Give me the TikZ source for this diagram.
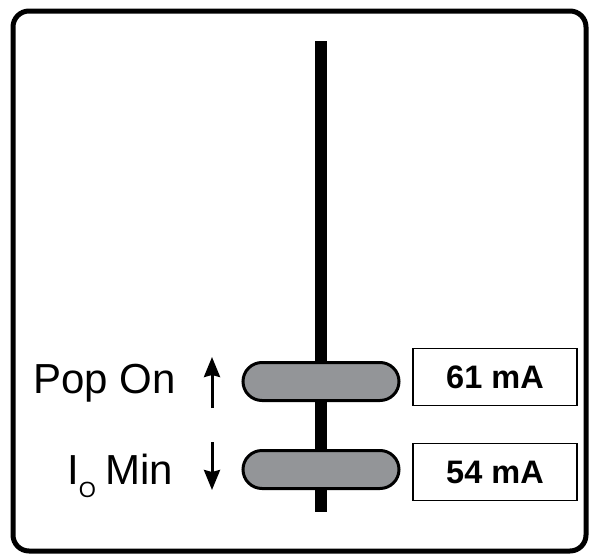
\documentclass[tikz,border=0pt]{standalone}
\usepackage{fontspec}
\setmainfont{Liberation Sans}
\usetikzlibrary{arrows.meta}
\definecolor{pillgray}{HTML}{939598}
\tikzset{
  frame/.style={line width=5pt, rounded corners=16pt},
  bar/.style={line width=12pt},
  pill/.style={draw, line width=3pt, fill=pillgray, rounded corners=19pt, minimum width=156pt, minimum height=38pt, inner sep=0pt},
  valbox/.style={draw, line width=1.5pt, minimum width=164pt, minimum height=57pt, inner sep=0pt, font=\fontsize{32.5}{38}\selectfont\bfseries},
  lbl/.style={inner sep=0pt, anchor=base west, font=\fontsize{42}{48}\selectfont},
  arr/.style={line width=3pt, -{Stealth[width=16pt,length=20pt,inset=2pt]}}
}
\begin{document}
\begin{tikzpicture}[x=1pt,y=-1pt]
\useasboundingbox (0,0) rectangle (589,554);
\draw[frame] (13,11) rectangle (586,551);
\coordinate (top) at (321,41);
\coordinate (bot) at (321,512);
\draw[bar] (top) -- (bot);
\node[pill] (popon) at (321,381.5) {};
\node[pill] (iomin) at (321,469.5) {};
\node[valbox] (v61) at (495,377) {61 mA};
\node[valbox] (v54) at (495,472) {54 mA};
\node[lbl] (lpop) at (33,393) {Pop On};
\node[lbl] (lio) at (67,484) {I\raisebox{-13pt}{\fontsize{22}{26}\selectfont O}\hspace{0.22em}Min};
\coordinate (ua) at (212,408);
\coordinate (ub) at (212,357);
\coordinate (da) at (212,442);
\coordinate (db) at (212,490);
\draw[arr] (ua) -- (ub);
\draw[arr] (da) -- (db);
\end{tikzpicture}
\end{document}
